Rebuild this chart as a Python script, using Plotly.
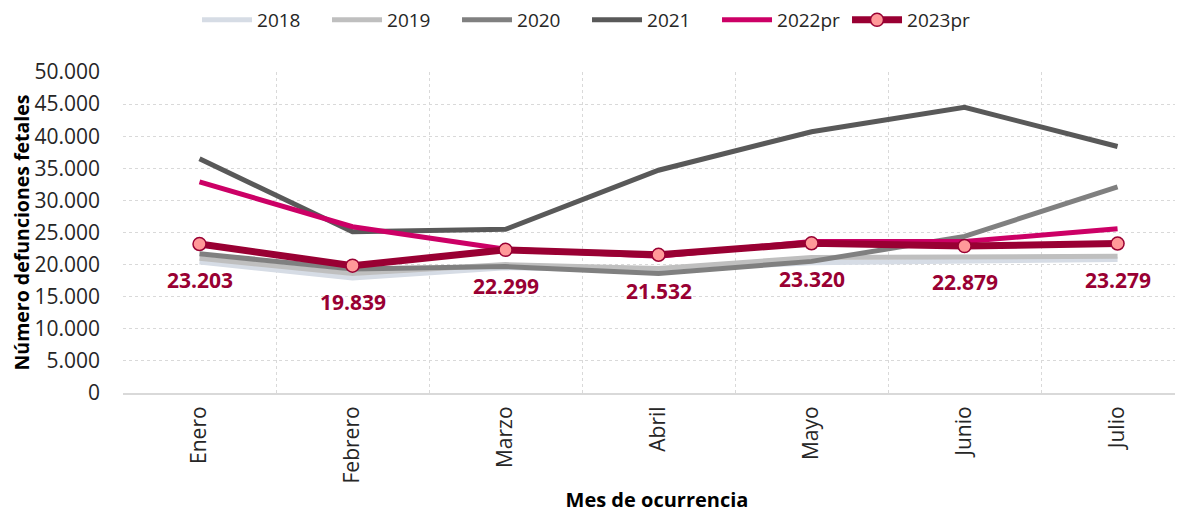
import plotly.graph_objects as go

meses = ["Enero", "Febrero", "Marzo", "Abril", "Mayo", "Junio", "Julio"]
v2018 = [20400, 17900, 19500, 19100, 20300, 20600, 20800]
v2019 = [21000, 18600, 20000, 19400, 21100, 21200, 21300]
v2020 = [21700, 19300, 19700, 18600, 20500, 24400, 32100]
v2021 = [36500, 25100, 25500, 34700, 40700, 44500, 38400]
v2022 = [32900, 25900, 22400, 21300, 23600, 23600, 25600]
v2023 = [23203, 19839, 22299, 21532, 23320, 22879, 23279]
etiquetas_2023 = ["23.203", "19.839", "22.299", "21.532", "23.320", "22.879", "23.279"]

FONT = "Open Sans"
fig = go.Figure()
series = [
    ("2018", v2018, "#D6DCE5", 5),
    ("2019", v2019, "#BFBFBF", 5),
    ("2020", v2020, "#808080", 5),
    ("2021", v2021, "#595959", 5),
    ("2022pr", v2022, "#CC0066", 5),
]
for name, vals, col, w in series:
    fig.add_trace(go.Scatter(x=meses, y=vals, name=name, mode="lines",
                             line=dict(color=col, width=w)))
fig.add_trace(go.Scatter(x=meses, y=v2023, name="2023pr", mode="lines+markers",
                         line=dict(color="#990033", width=7),
                         marker=dict(size=13, color="#FF9999",
                                     line=dict(color="#990033", width=1.5))))

for m, v, t in zip(meses, v2023, etiquetas_2023):
    fig.add_annotation(x=m, y=v, text=t, showarrow=False, yshift=-36,
                       font=dict(family=FONT, size=21, color="#990033", weight="bold"))

fig.update_layout(
    width=1183, height=513,
    margin=dict(l=115, r=0, t=64, b=128, autoexpand=False),
    paper_bgcolor="white", plot_bgcolor="white",
    separators=",.",
    font=dict(family=FONT, size=21, color="#262626"),
    showlegend=True,
    legend=dict(orientation="h", x=0.0693, xanchor="left", y=1.162, yanchor="middle",
                font=dict(size=19, color="#262626"), entrywidth=65, itemwidth=50,
                bgcolor="rgba(0,0,0,0)"),
)
fig.update_xaxes(
    type="category", range=[-0.5, 6.48], tickson="boundaries", automargin=False,
    showgrid=True, gridcolor="#D9D9D9", griddash="dot", gridwidth=1,
    showline=True, linecolor="#D9D9D9", linewidth=2,
    tickangle=-90, ticks="", ticklabelstandoff=3, tickfont=dict(size=21),
    title=dict(text="<b>Mes de ocurrencia</b>", font=dict(size=20, color="#000000"), standoff=11),
)
fig.update_yaxes(
    range=[0, 50000], tickvals=[0, 5000, 10000, 15000, 20000, 25000, 30000, 35000, 40000, 45000, 50000],
    tickformat=",d", showgrid=True, gridcolor="#D9D9D9", griddash="dot", gridwidth=1,
    zeroline=False, showline=False, ticks="", ticklabelstandoff=22, automargin=False,
    tickfont=dict(size=21),
    title=dict(text="<b>Número defunciones fetales</b>", font=dict(size=19.5, color="#000000"), standoff=8),
)
fig.write_html("out.html")
